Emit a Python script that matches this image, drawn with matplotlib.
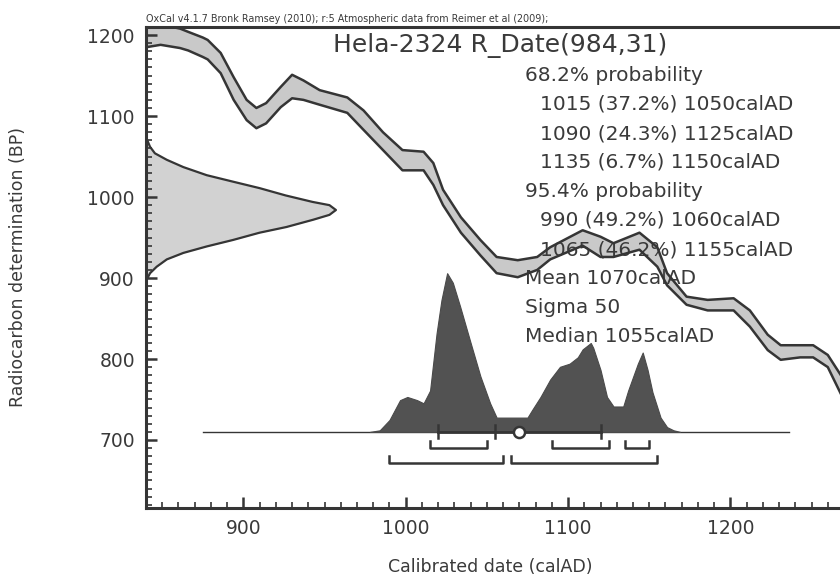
import numpy as np
import matplotlib.pyplot as plt

# calibration curve band (calAD, BP upper / lower edge)
cal_years = [840, 849, 861, 866, 875, 878, 886, 894, 902, 908, 914, 923, 930, 937,
             947, 964, 974, 986, 998, 1011, 1017, 1023, 1034, 1046, 1056, 1069, 1081,
             1089, 1109, 1120, 1128, 1144, 1155, 1161, 1173, 1186, 1202, 1212, 1223,
             1231, 1243, 1251, 1260, 1270]
cal_upper = [1216, 1213, 1208, 1204, 1197, 1194, 1178, 1148, 1120, 1110, 1116, 1136,
             1151, 1144, 1132, 1123, 1107, 1080, 1058, 1056, 1042, 1009, 975, 947,
             926, 922, 926, 938, 959, 951, 943, 956, 938, 906, 877, 873, 875, 860,
             830, 817, 817, 817, 805, 774]
cal_lower = [1185, 1188, 1184, 1181, 1173, 1170, 1153, 1120, 1095, 1085, 1091, 1111,
             1122, 1120, 1114, 1104, 1083, 1058, 1033, 1033, 1015, 990, 956, 928, 906,
             901, 910, 923, 940, 926, 926, 935, 914, 891, 867, 860, 860, 840, 811,
             799, 802, 802, 790, 749]

# radiocarbon date likelihood, drawn from the y axis
rc_bp = [1080, 1072, 1062, 1054, 1046, 1037, 1027, 1019, 1011, 1002, 994, 990, 984,
         978, 972, 963, 956, 947, 939, 931, 923, 914, 906, 898, 892]
rc_width = [0, 0.4, 2.5, 5.5, 12.8, 23, 37.4, 53.6, 70, 86, 102.6, 113, 117, 113,
            103, 86.5, 70, 53.6, 37.4, 23, 12.8, 6.6, 2.5, 0.4, 0]

# calibrated probability (relative)
post_years = [978, 984, 990, 996.5, 1001, 1007, 1011, 1015, 1019, 1022, 1025.5, 1029,
              1033.5, 1040, 1046, 1052, 1056, 1060, 1069, 1075, 1078, 1083, 1089, 1095,
              1101, 1106, 1109, 1114, 1115.5, 1120, 1124, 1128, 1134, 1137, 1143,
              1146, 1149, 1152, 1157, 1161, 1165, 1169]
post_prob = [0.0, 0.01, 0.075, 0.20, 0.22, 0.20, 0.18, 0.26, 0.62, 0.83, 1.0, 0.94,
             0.79, 0.56, 0.35, 0.18, 0.09, 0.09, 0.09, 0.09, 0.14, 0.22, 0.33, 0.41,
             0.43, 0.47, 0.52, 0.56, 0.53, 0.39, 0.22, 0.16, 0.16, 0.26, 0.43, 0.50,
             0.39, 0.25, 0.09, 0.03, 0.01, 0.0]

range68 = [(1015, 1050), (1090, 1125), (1135, 1150)]
range95 = [(990, 1060), (1065, 1155)]
mean_year = 1070
sigma = 50
median_year = 1055
line_span = (875, 1236)

header = "OxCal v4.1.7 Bronk Ramsey (2010); r:5 Atmospheric data from Reimer et al (2009);"
title = "Hela-2324 R_Date(984,31)"
info_lines = [
    (0, "68.2% probability"),
    (1, "1015 (37.2%) 1050calAD"),
    (1, "1090 (24.3%) 1125calAD"),
    (1, "1135 (6.7%) 1150calAD"),
    (0, "95.4% probability"),
    (1, "990 (49.2%) 1060calAD"),
    (1, "1065 (46.2%) 1155calAD"),
    (0, "Mean 1070calAD"),
    (0, "Sigma 50"),
    (0, "Median 1055calAD"),
]

W, H = 840, 580
ink = "#353535"
text_c = "#3a3a3a"

fig = plt.figure(figsize=(W / 100, H / 100), dpi=100)
ax = fig.add_axes([146 / W, 1 - 508 / H, (844 - 146) / W, (508 - 27) / H])
ax.set_xlim(840, 1270)
ax.set_ylim(616, 1210)


def px(x, y):
    return x / W, 1 - y / H


# calibration curve
ax.fill_between(cal_years, cal_lower, cal_upper, color="#c9c9c9", lw=0, zorder=1)
ax.plot(cal_years, cal_upper, color=ink, lw=1.8, zorder=3)
ax.plot(cal_years, cal_lower, color=ink, lw=1.8, zorder=3)

# radiocarbon likelihood
x0 = ax.get_xlim()[0]
rc_x = [x0 + w for w in rc_width]
ax.fill_betweenx(rc_bp, x0, rc_x, color="#d2d2d2", lw=0, zorder=1)
ax.plot(rc_x, rc_bp, color=ink, lw=1.6, zorder=3)

# calibrated distribution
base = 710
height = 196
post_y = [base + p * height for p in post_prob]
ax.plot(line_span, [base, base], color=ink, lw=1.0, zorder=2)
ax.fill_between(post_years, base, post_y, color="#525252", lw=0.8,
                edgecolor="#4a4a4a", zorder=2)

# mean +- sigma bar with median tick
ax.plot([mean_year - sigma, mean_year + sigma], [base, base], color=ink, lw=2, zorder=4)
for t in (mean_year - sigma, median_year, mean_year + sigma):
    ax.plot([t, t], [base - 8, base + 8], color=ink, lw=1.8, zorder=4)
ax.plot(mean_year, base, "o", ms=8, mfc="white", mec=ink, mew=1.8, zorder=5)

# range brackets
for s, e in range68:
    ax.plot([s, s, e, e], [699, 690, 690, 699], color=ink, lw=1.8, zorder=4)
for s, e in range95:
    ax.plot([s, s, e, e], [680, 672, 672, 680], color=ink, lw=1.8, zorder=4)

# axes styling
for side in ("left", "bottom", "top"):
    ax.spines[side].set_linewidth(2.2)
    ax.spines[side].set_color(ink)
ax.spines["right"].set_visible(False)
ax.set_xticks([900, 1000, 1100, 1200])
ax.set_yticks([700, 800, 900, 1000, 1100, 1200])
ax.set_xticks(np.arange(840, 1271, 10), minor=True)
ax.set_yticks(np.arange(620, 1211, 10), minor=True)
ax.tick_params(which="major", direction="in", length=8, width=1.8, color=ink,
               labelsize=13.5, labelcolor=text_c, pad=8)
ax.tick_params(which="minor", direction="in", length=4.5, width=1.2, color=ink)

# texts
fig.text(*px(146, 22), header, fontsize=6.9, color=text_c, ha="left", va="baseline")
ax.text(*px(333, 52), title, transform=fig.transFigure, fontsize=18, color=text_c,
        ha="left", va="baseline", zorder=2)
for i, (indent, line) in enumerate(info_lines):
    ax.text(*px(525 + 15 * indent, 81 + 29 * i), line, transform=fig.transFigure,
            fontsize=14.5, color=text_c, ha="left", va="baseline", zorder=2)

fig.text(*px(18, 267), "Radiocarbon determination (BP)", rotation=90, fontsize=12.5,
         color=text_c, ha="center", va="center")
fig.text(*px(490, 567), "Calibrated date (calAD)", fontsize=12.5, color=text_c,
         ha="center", va="center")

fig.savefig("out.png", dpi=100)
